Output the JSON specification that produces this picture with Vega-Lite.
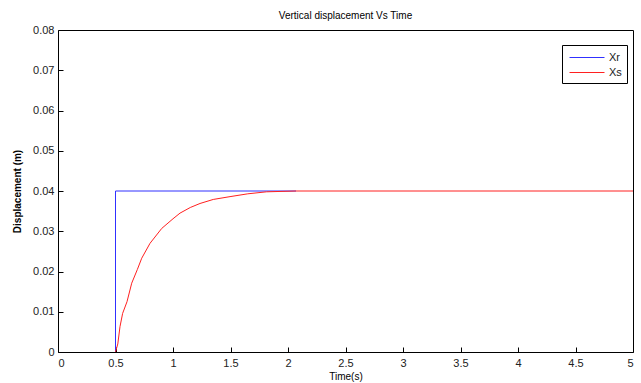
{
  "$schema": "https://vega.github.io/schema/vega-lite/v6.json",
  "width": 575,
  "height": 322,
  "autosize": {"type": "none"},
  "padding": {"left": 58, "top": 30, "right": 8, "bottom": 31},
  "background": "white",
  "config": {
    "font": "Liberation Sans",
    "view": {"stroke": "black", "strokeWidth": 1},
    "axis": {
      "domain": false,
      "labelColor": "#222222",
      "labelFont": "Liberation Sans",
      "labelFontSize": 11,
      "titleFont": "Liberation Sans",
      "titleFontSize": 10,
      "titleFontWeight": "normal",
      "titleColor": "black",
      "ticks": true,
      "tickColor": "black",
      "tickWidth": 1,
      "tickSize": 5,
      "offset": -5,
      "grid": false
    }
  },
  "title": {
    "text": "Vertical displacement Vs Time",
    "fontSize": 10,
    "fontWeight": "normal",
    "font": "Liberation Sans",
    "color": "black",
    "offset": 3
  },
  "data": {
    "values": [
      {"t": 0.5, "v": 0, "s": "Xr"},
      {"t": 0.5, "v": 0.04, "s": "Xr"},
      {"t": 2.07, "v": 0.04, "s": "Xr"},
      {"t": 0.5, "v": 0, "s": "Xs"},
      {"t": 0.52, "v": 0.002, "s": "Xs"},
      {"t": 0.539, "v": 0.0063, "s": "Xs"},
      {"t": 0.562, "v": 0.0096, "s": "Xs"},
      {"t": 0.6, "v": 0.0125, "s": "Xs"},
      {"t": 0.641, "v": 0.0171, "s": "Xs"},
      {"t": 0.69, "v": 0.0205, "s": "Xs"},
      {"t": 0.728, "v": 0.0233, "s": "Xs"},
      {"t": 0.8, "v": 0.027, "s": "Xs"},
      {"t": 0.902, "v": 0.0307, "s": "Xs"},
      {"t": 1.0, "v": 0.0331, "s": "Xs"},
      {"t": 1.061, "v": 0.0345, "s": "Xs"},
      {"t": 1.15, "v": 0.0359, "s": "Xs"},
      {"t": 1.235, "v": 0.0369, "s": "Xs"},
      {"t": 1.35, "v": 0.0379, "s": "Xs"},
      {"t": 1.496, "v": 0.0386, "s": "Xs"},
      {"t": 1.65, "v": 0.0393, "s": "Xs"},
      {"t": 1.814, "v": 0.0398, "s": "Xs"},
      {"t": 2.07, "v": 0.04, "s": "Xs"},
      {"t": 5, "v": 0.04, "s": "Xs"}
    ]
  },
  "mark": {"type": "line", "strokeWidth": 1, "interpolate": "linear"},
  "encoding": {
    "x": {
      "field": "t", "type": "quantitative",
      "scale": {"domain": [0, 5], "nice": false, "zero": false},
      "axis": {"orient": "bottom", "title": "Time(s)", "labelPadding": 5, "tickCount": 10, "labelExpr": "format(datum.value, '~g')", "titlePadding": 3}
    },
    "y": {
      "field": "v", "type": "quantitative",
      "scale": {"domain": [0, 0.08], "nice": false, "zero": false},
      "axis": {"orient": "left", "title": "Displacement (m)", "labelPadding": 4, "titleFontWeight": "bold", "tickCount": 8, "labelExpr": "datum.value == 0 ? '0' : format(datum.value, '.2f')", "titlePadding": 10}
    },
    "color": {
      "field": "s", "type": "nominal",
      "scale": {"domain": ["Xr", "Xs"], "range": ["#3030ff", "#ff2020"]},
      "legend": {
        "title": null,
        "orient": "none",
        "legendX": 504,
        "legendY": 15,
        "strokeColor": "black",
        "fillColor": "white",
        "padding": 5,
        "symbolType": "M-1,0H4",
        "symbolSize": 196,
        "symbolOffset": 2,
        "symbolStrokeWidth": 1,
        "labelFontSize": 11,
        "labelColor": "#222222",
        "labelOffset": 25,
        "rowPadding": 2
      }
    }
  }
}
